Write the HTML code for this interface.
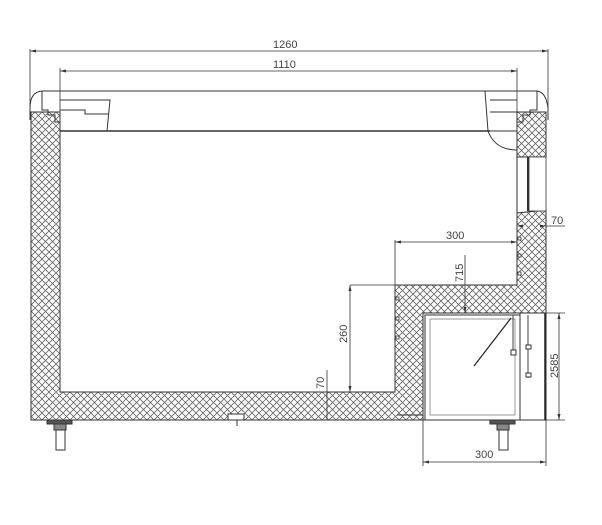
<!DOCTYPE html>
<html><head><meta charset="utf-8"><style>
html,body{margin:0;padding:0;background:#fff;}
svg{display:block;}
text{font-family:"Liberation Sans",sans-serif;font-size:11px;fill:#444;}
</style></head><body>
<svg width="602" height="525" viewBox="0 0 602 525" xmlns="http://www.w3.org/2000/svg">
<defs>
<pattern id="h" width="7" height="7" patternUnits="userSpaceOnUse">
<rect width="7" height="7" fill="#fff"/>
<path d="M0,0L7,7M7,0L0,7" stroke="#666" stroke-width="0.8"/>
</pattern>
</defs>
<g stroke="#333" fill="none" stroke-width="0.8">
<line x1="30" y1="51" x2="548" y2="51"/>
<line x1="30" y1="49" x2="30" y2="120"/>
<line x1="548" y1="49" x2="548" y2="120"/>
<line x1="60" y1="71" x2="517" y2="71"/>
<line x1="60" y1="68" x2="60" y2="130"/>
<line x1="517" y1="68" x2="517" y2="130"/>
</g>
<g fill="#333">
<path d="M30,51l6,-1.5v3z"/><path d="M548,51l-6,-1.5v3z"/>
<path d="M60,71l6,-1.5v3z"/><path d="M517,71l-6,-1.5v3z"/>
</g>
<text x="273" y="48">1260</text>
<text x="273" y="68">1110</text>

<path d="M31,112 H60 V392 H395 V285 H517 V213 L546,210 V420 H31 Z" fill="url(#h)" stroke="#333" stroke-width="1"/>
<path d="M517,112 H546 V157 H517 Z" fill="url(#h)" stroke="#333" stroke-width="1"/>
<path d="M60,131 H517 V285 H395 V392 H60 Z" fill="#fff" stroke="#333" stroke-width="1"/>
<rect x="529" y="157" width="17" height="54" fill="#fff" stroke="#333" stroke-width="0.8"/>
<rect x="527" y="157" width="2" height="54" fill="#333"/>

<rect x="423" y="313" width="123" height="107" fill="#fff" stroke="#333" stroke-width="1"/>
<rect x="425" y="315" width="95" height="105" fill="none" stroke="#333" stroke-width="1"/>
<rect x="430" y="319" width="85" height="96" fill="none" stroke="#555" stroke-width="0.6"/>
<line x1="520" y1="313" x2="520" y2="420" stroke="#333" stroke-width="1"/>
<line x1="545" y1="313" x2="545" y2="420" stroke="#222" stroke-width="1.5"/>
<line x1="511" y1="318" x2="474" y2="366" stroke="#222" stroke-width="1.2"/>
<line x1="513" y1="315" x2="513" y2="355" stroke="#444"/>
<rect x="511" y="350" width="5" height="5" fill="#fff" stroke="#333"/>
<line x1="528" y1="315" x2="528" y2="378" stroke="#444"/>
<rect x="526" y="345" width="5" height="4" fill="#fff" stroke="#333"/>
<rect x="526" y="373" width="5" height="4" fill="#fff" stroke="#333"/>
<line x1="397" y1="415" x2="423" y2="415" stroke="#333"/>

<g stroke="#333" fill="none" stroke-width="1">
<path d="M30,120 V108 Q30,92 42,91 H537 Q546,92 548,108 V120"/>
<path d="M60,131 H490" stroke-width="1.5"/>
<path d="M42,91 V110 H48 V115 H55 V122 H60"/>
<path d="M537,91 V110 H530 V115 H523 V122 H517"/>
<path d="M60,100 H110 L107,131"/>
<path d="M60,110 H85 V114 H108"/>
<path d="M485,91 L488,131 Q495,150 517,150"/>
<path d="M517,100 H490"/>
<path d="M517,112 H490"/>
</g>

<g fill="#fff" stroke="#333" stroke-width="0.8">
<rect x="396" y="297" width="3" height="3"/><rect x="396" y="317" width="3" height="3"/><rect x="396" y="336" width="3" height="3"/>
<rect x="518" y="237" width="3" height="3"/><rect x="518" y="254" width="3" height="3"/><rect x="518" y="272" width="3" height="3"/>
</g>

<g stroke="#333" stroke-width="1">
<rect x="47" y="420" width="25" height="4" fill="#555"/>
<rect x="54" y="424" width="12" height="6" fill="#888"/>
<rect x="56" y="430" width="9" height="20" fill="#fff"/>
<rect x="490" y="420" width="25" height="4" fill="#555"/>
<rect x="497" y="424" width="12" height="6" fill="#888"/>
<rect x="499" y="430" width="9" height="20" fill="#fff"/>
<rect x="228" y="414" width="16" height="6" fill="#fff"/>
<line x1="237" y1="420" x2="237" y2="426"/>
</g>

<g stroke="#333" stroke-width="0.8" fill="none">
<line x1="395" y1="242" x2="517" y2="242"/>
<line x1="395" y1="240" x2="395" y2="285"/>
<line x1="465" y1="255" x2="465" y2="313"/>
<line x1="350" y1="285" x2="395" y2="285"/>
<line x1="350" y1="285" x2="350" y2="392"/>
<line x1="327" y1="370" x2="327" y2="420"/>
<line x1="546" y1="226" x2="565" y2="226"/>
<line x1="546" y1="313" x2="565" y2="313"/>
<line x1="546" y1="420" x2="565" y2="420"/>
<line x1="559" y1="313" x2="559" y2="420"/>
<line x1="423" y1="420" x2="423" y2="466"/>
<line x1="546" y1="420" x2="546" y2="466"/>
<line x1="423" y1="462" x2="546" y2="462"/>
</g>
<g fill="#333">
<path d="M395,242l6,-1.5v3z"/><path d="M517,242l-6,-1.5v3z"/>
<path d="M350,285l-1.5,6h3z"/><path d="M350,392l-1.5,-6h3z"/>
<path d="M465,313l-1.5,-6h3z"/>
<path d="M559,313l-1.5,6h3z"/><path d="M559,420l-1.5,-6h3z"/>
<path d="M423,462l6,-1.5v3z"/><path d="M546,462l-6,-1.5v3z"/>
<path d="M517,226l6,-1.5v3z"/><path d="M546,226l-6,-1.5v3z"/>
</g>
<text x="446" y="239">300</text>
<text x="551" y="224">70</text>
<text x="475" y="458">300</text>
<text transform="translate(463,282) rotate(-90)">715</text>
<text transform="translate(347,343) rotate(-90)">260</text>
<text transform="translate(324,389) rotate(-90)">70</text>
<text transform="translate(558,378) rotate(-90)">2585</text>
</svg>
</body></html>
